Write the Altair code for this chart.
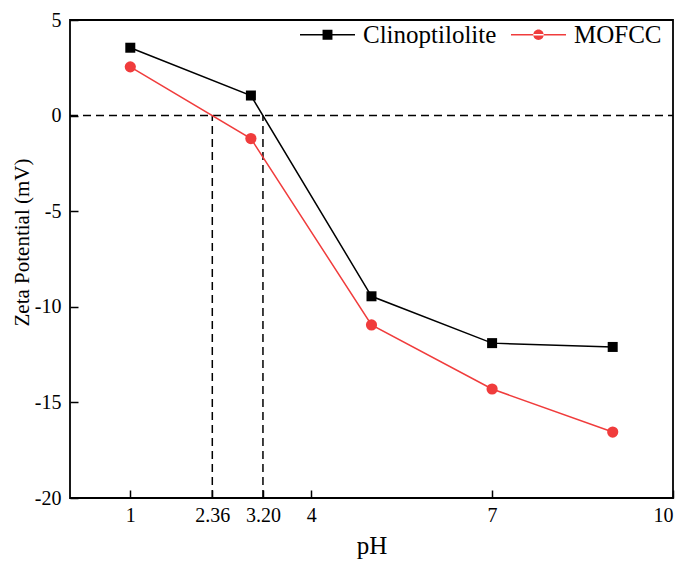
import altair as alt
import pandas as pd

series_names = ["Clinoptilolite", "MOFCC"]
ph = [1, 3, 5, 7, 9]
clino = [3.55, 1.05, -9.45, -11.9, -12.1]
mofcc = [2.55, -1.2, -10.95, -14.3, -16.55]

x_ticks = [1, 2.36, 3.20, 4, 7, 10]
x_tick_labels = ["1", "2.36", "3.20", "4", "7", "10"]
y_ticks = [5, 0, -5, -10, -15, -20]
x_domain = [0, 10]
y_domain = [-20, 5]

pzc_x = [2.36, 3.20]
zero_line_y = [0]
colors = ["#000000", "#f03c3c"]

rows = []
for name, vals in zip(series_names, [clino, mofcc]):
    for p, v in zip(ph, vals):
        rows.append({"pH": p, "zeta": v, "series": name})
df = pd.DataFrame(rows)

vdf = pd.DataFrame({"x": pzc_x, "y": [y_domain[0]] * len(pzc_x), "y2": [0] * len(pzc_x)})
hdf = pd.DataFrame({"y": zero_line_y, "x": [x_domain[0]], "x2": [x_domain[1]]})
frame = pd.DataFrame({"x": [x_domain[0]], "x2": [x_domain[1]], "y": [y_domain[0]], "y2": [y_domain[1]]})

FONT = "Liberation Serif"
label_expr = "{" + ",".join(f"'{v}':'{l}'" for v, l in zip(x_ticks, x_tick_labels)) + "}[datum.value] || datum.label"

xscale = alt.Scale(domain=x_domain, nice=False, zero=False)
yscale = alt.Scale(domain=y_domain, nice=False, zero=False)

TICK = 8
xaxis = alt.Axis(values=x_ticks, title="pH", labelExpr=label_expr, grid=False, domain=False,
                 offset=-TICK, tickSize=TICK, tickColor="#000000", tickWidth=1.5,
                 labelFont=FONT, labelFontSize=20, labelColor="black", labelPadding=7,
                 titleFont=FONT, titleFontSize=25, titleFontWeight="normal", titleColor="black",
                 titlePadding=8)
yaxis = alt.Axis(values=y_ticks, title="Zeta Potential (mV)", labelExpr="datum.value + ''",
                 grid=False, domain=False,
                 offset=-TICK, tickSize=TICK, tickColor="#000000", tickWidth=1.5,
                 labelFont=FONT, labelFontSize=20, labelColor="black", labelPadding=9,
                 titleFont=FONT, titleFontSize=21, titleFontWeight="normal", titleColor="black",
                 titlePadding=2, titleY=222)

# legend symbols: filled thin bar (line) plus marker, path units span sqrt(size)
bar = "M-1,-0.028H1V0.028H-1Z"
sq = bar + "M-0.18,-0.18H0.18V0.18H-0.18Z"
ci = bar + "M-0.19,0A0.19,0.19 0 1,0 0.19,0A0.19,0.19 0 1,0 -0.19,0Z"

legend = alt.Legend(
    title=None, orient="none", legendX=230, legendY=-13, direction="horizontal",
    labelFont=FONT, labelFontSize=25, labelColor="black", symbolSize=3025, padding=0,
    symbolOpacity=1, symbolStrokeWidth=0, labelOffset=8, columnPadding=14,
)

layers = []
layers.append(alt.Chart(frame).mark_rect(fill="transparent", stroke="#000000", strokeWidth=1.8).encode(
    x=alt.X("x:Q", scale=xscale, axis=xaxis), x2="x2:Q",
    y=alt.Y("y:Q", scale=yscale, axis=yaxis), y2="y2:Q"))
layers.append(alt.Chart(hdf).mark_rule(strokeDash=[8, 5], strokeWidth=1.5, color="black").encode(
    y="y:Q", x="x:Q", x2="x2:Q"))
layers.append(alt.Chart(vdf).mark_rule(strokeDash=[8, 5], strokeWidth=1.5, color="black").encode(
    x="x:Q", y="y:Q", y2="y2:Q"))

marker_shapes = ["square", "circle"]
marker_sizes = [100, 125]
for name, col, shp, sz in zip(series_names, colors, marker_shapes, marker_sizes):
    sub = alt.Chart(df).transform_filter(alt.datum.series == name)
    layers.append(sub.mark_line(strokeWidth=1.5, color=col).encode(x="pH:Q", y="zeta:Q"))
    layers.append(sub.mark_point(filled=True, opacity=1, color=col, shape=shp, size=sz).encode(
        x="pH:Q", y="zeta:Q"))

legend_layer = alt.Chart(df).transform_filter("false").mark_point(filled=True).encode(
    x="pH:Q", y="zeta:Q",
    color=alt.Color("series:N", scale=alt.Scale(domain=series_names, range=colors), legend=legend),
    shape=alt.Shape("series:N", scale=alt.Scale(domain=series_names, range=[sq, ci]), legend=legend),
)
layers.append(legend_layer)

chart = alt.layer(*layers).properties(
    width=603, height=478,
    autosize=alt.AutoSizeParams(type="none"),
    padding={"left": 62, "top": 12, "right": 4, "bottom": 68},
).configure(
    background="white", font=FONT,
).configure_view(stroke="transparent").configure_legend(labelFont=FONT, labelFontSize=25)

chart.save("out.html", embed_options={"renderer": "svg", "actions": False})
